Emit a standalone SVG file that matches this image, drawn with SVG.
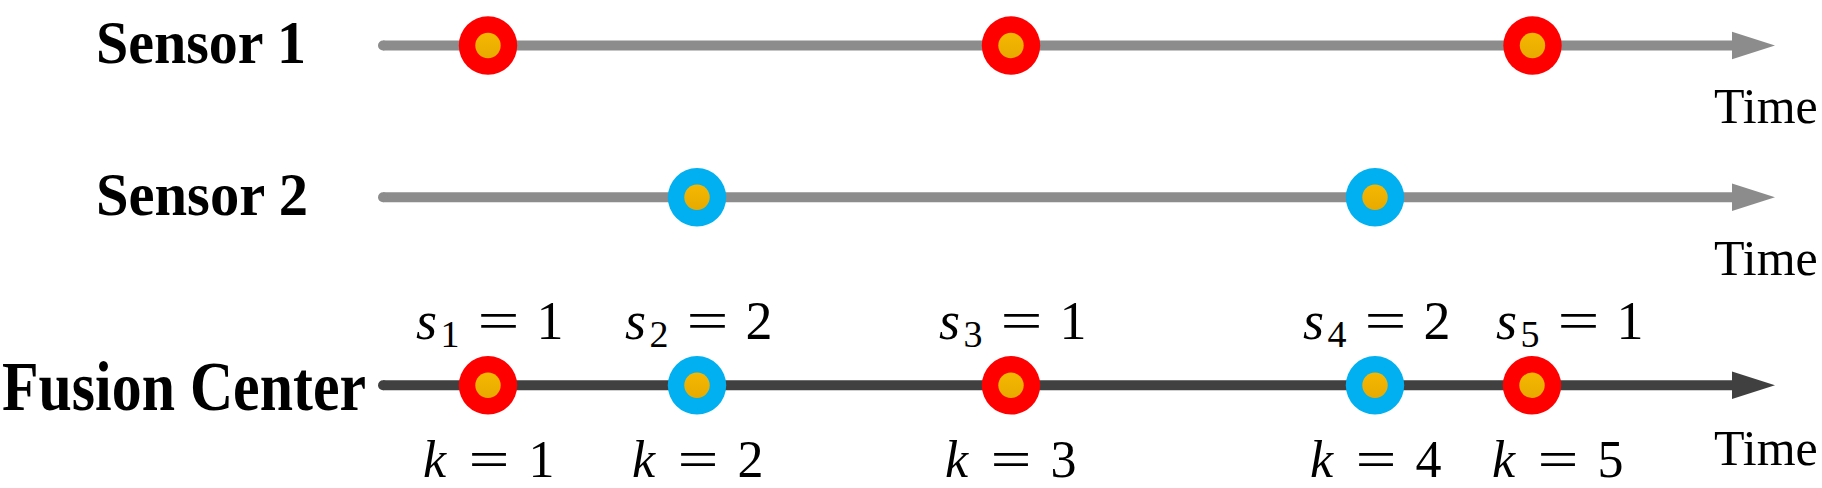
<svg xmlns="http://www.w3.org/2000/svg" width="1822" height="488" viewBox="0 0 1822 488">
<style>
.lbl{font-family:"Liberation Serif","Times New Roman",serif;font-weight:bold;fill:#000}
.time{font-family:"Liberation Serif","Times New Roman",serif;font-size:50px;fill:#000}
.m{font-family:"Liberation Serif","Times New Roman",serif;font-size:54px;fill:#000}
.k{font-size:52px}
.mi{font-style:italic}
.sub{font-family:"Liberation Serif","Times New Roman",serif;font-size:38px;fill:#000;text-anchor:middle}
.c{text-anchor:middle}
.ax1{stroke:#8c8c8c;stroke-width:10;fill:none}
.ax2{stroke:#404040;stroke-width:10;fill:none}
.red{fill:#ff0000}
.blue{fill:#00b0f0}
.core{fill:url(#og)}
</style>
<defs>
<linearGradient id="og" x1="0" y1="0" x2="0" y2="1">
<stop offset="0" stop-color="#f5b800"/>
<stop offset="1" stop-color="#e8aa00"/>
</linearGradient>
</defs>

<g id="connectors">
<line class="ax1" x1="383" y1="45.5" x2="1735" y2="45.5"/>
<circle cx="383" cy="45.5" r="5" fill="#8c8c8c"/>
<polygon points="1732,31.7 1775,45.5 1732,59.3" fill="#8c8c8c"/>
<line class="ax1" x1="383" y1="197.3" x2="1735" y2="197.3"/>
<circle cx="383" cy="197.3" r="5" fill="#8c8c8c"/>
<polygon points="1732,183.5 1775,197.3 1732,211.1" fill="#8c8c8c"/>
<line class="ax2" x1="383" y1="385.3" x2="1735" y2="385.3"/>
<circle cx="383" cy="385.3" r="5" fill="#404040"/>
<polygon points="1732,371.5 1775,385.3 1732,399.1" fill="#404040"/>
</g>

<g id="sensor1">
<text class="lbl" x="96" y="63.3" font-size="61" textLength="210" lengthAdjust="spacingAndGlyphs">Sensor 1</text>
<text class="time" x="1714" y="123.3">Time</text>
</g>
<g id="sensor1-events">
<circle class="red" cx="488" cy="45.5" r="29.2"/><circle class="core" cx="488" cy="45.5" r="12.7"/>
<circle class="red" cx="1011" cy="45.5" r="29.2"/><circle class="core" cx="1011" cy="45.5" r="12.7"/>
<circle class="red" cx="1532.5" cy="45.5" r="29.2"/><circle class="core" cx="1532.5" cy="45.5" r="12.7"/>
</g>

<g id="sensor2">
<text class="lbl" x="96" y="215" font-size="61" textLength="212" lengthAdjust="spacingAndGlyphs">Sensor 2</text>
<text class="time" x="1714" y="275">Time</text>
</g>
<g id="sensor2-events">
<circle class="blue" cx="697" cy="197.3" r="29.2"/><circle class="core" cx="697" cy="197.3" r="12.7"/>
<circle class="blue" cx="1375" cy="197.3" r="29.2"/><circle class="core" cx="1375" cy="197.3" r="12.7"/>
</g>

<g id="fusion-center">
<text class="lbl" x="2" y="410" font-size="70" textLength="364" lengthAdjust="spacingAndGlyphs">Fusion Center</text>
<text class="time" x="1714" y="465">Time</text>
</g>
<g id="fusion-events">
<circle class="red" cx="488" cy="385.3" r="29.2"/><circle class="core" cx="488" cy="385.3" r="12.7"/>
<circle class="blue" cx="697" cy="385.3" r="29.2"/><circle class="core" cx="697" cy="385.3" r="12.7"/>
<circle class="red" cx="1011" cy="385.3" r="29.2"/><circle class="core" cx="1011" cy="385.3" r="12.7"/>
<circle class="blue" cx="1375" cy="385.3" r="29.2"/><circle class="core" cx="1375" cy="385.3" r="12.7"/>
<circle class="red" cx="1532" cy="385.3" r="29.2"/><circle class="core" cx="1532" cy="385.3" r="12.7"/>
</g>

<g id="s-labels">
<g><text class="m mi" x="416" y="339">s</text><text class="sub" x="450" y="346.7">1</text><text class="m c" x="498.5" y="339" textLength="42" lengthAdjust="spacingAndGlyphs">=</text><text class="m c" x="550" y="339">1</text></g>
<g><text class="m mi" x="625" y="339">s</text><text class="sub" x="659" y="346.7">2</text><text class="m c" x="707.5" y="339" textLength="42" lengthAdjust="spacingAndGlyphs">=</text><text class="m c" x="759" y="339">2</text></g>
<g><text class="m mi" x="939" y="339">s</text><text class="sub" x="973" y="346.7">3</text><text class="m c" x="1021.5" y="339" textLength="42" lengthAdjust="spacingAndGlyphs">=</text><text class="m c" x="1073" y="339">1</text></g>
<g><text class="m mi" x="1303" y="339">s</text><text class="sub" x="1337" y="346.7">4</text><text class="m c" x="1385.5" y="339" textLength="42" lengthAdjust="spacingAndGlyphs">=</text><text class="m c" x="1437" y="339">2</text></g>
<g><text class="m mi" x="1496" y="339">s</text><text class="sub" x="1530" y="346.7">5</text><text class="m c" x="1578.5" y="339" textLength="42" lengthAdjust="spacingAndGlyphs">=</text><text class="m c" x="1630" y="339">1</text></g>
</g>

<g id="k-labels">
<g><text class="m k mi" x="423" y="477">k</text><text class="m k c" x="489" y="477" textLength="41" lengthAdjust="spacingAndGlyphs">=</text><text class="m k c" x="541.5" y="477">1</text></g>
<g><text class="m k mi" x="632" y="477">k</text><text class="m k c" x="698" y="477" textLength="41" lengthAdjust="spacingAndGlyphs">=</text><text class="m k c" x="750.5" y="477">2</text></g>
<g><text class="m k mi" x="945" y="477">k</text><text class="m k c" x="1011" y="477" textLength="41" lengthAdjust="spacingAndGlyphs">=</text><text class="m k c" x="1063.5" y="477">3</text></g>
<g><text class="m k mi" x="1310" y="477">k</text><text class="m k c" x="1376" y="477" textLength="41" lengthAdjust="spacingAndGlyphs">=</text><text class="m k c" x="1428.5" y="477">4</text></g>
<g><text class="m k mi" x="1492" y="477">k</text><text class="m k c" x="1558" y="477" textLength="41" lengthAdjust="spacingAndGlyphs">=</text><text class="m k c" x="1610.5" y="477">5</text></g>
</g>
</svg>
